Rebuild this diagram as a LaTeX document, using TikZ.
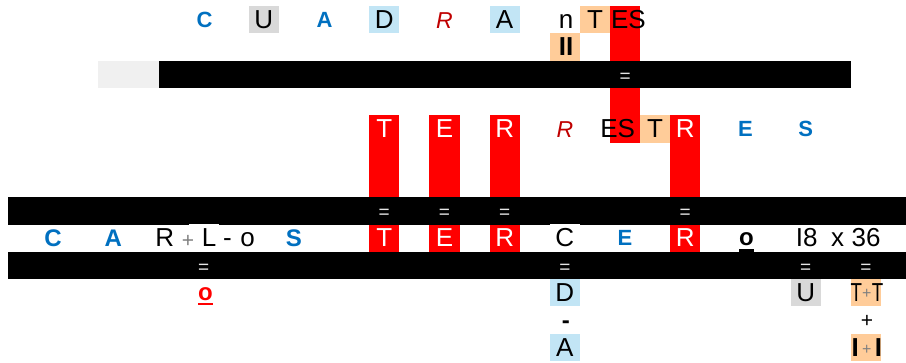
\documentclass[tikz,border=0pt]{standalone}
\usepackage{fontspec}
\setmainfont{Liberation Sans}
\definecolor{ablue}{HTML}{0070C0}
\definecolor{dred}{HTML}{C00000}
\definecolor{lblue}{HTML}{C2E5F5}
\definecolor{lgray}{HTML}{D9D9D9}
\definecolor{orng}{HTML}{FFCC99}
\definecolor{pgray}{HTML}{F0F0F0}
\definecolor{eqc}{HTML}{E6E6E6}
\definecolor{redc}{HTML}{FF0000}
\definecolor{plusg}{HTML}{808080}
\tikzset{
  tb/.style={anchor=base, inner sep=0pt, outer sep=0pt, font=\fontsize{26}{26}\selectfont},
  tw/.style={tb, text=white},
  tbb/.style={tb, font=\bfseries\fontsize{26}{26}\selectfont},
  tbl/.style={anchor=base, inner sep=0pt, outer sep=0pt, font=\bfseries\fontsize{22}{22}\selectfont, text=ablue},
  tblbig/.style={tbl, font=\bfseries\fontsize{24}{24}\selectfont},
  ti/.style={anchor=base, inner sep=0pt, outer sep=0pt, font=\itshape\fontsize{23}{23}\selectfont, text=dred},
  teq/.style={anchor=base, inner sep=0pt, outer sep=0pt, font=\fontsize{19}{19}\selectfont, text=eqc},
  tpl/.style={anchor=base, inner sep=0pt, outer sep=0pt, font=\fontsize{21}{21}\selectfont},
  tgp/.style={tpl, text=plusg},
  tgps/.style={tgp, font=\fontsize{16}{16}\selectfont},
  tbo/.style={anchor=base, inner sep=0pt, outer sep=0pt, font=\bfseries\fontsize{24}{24}\selectfont},
}
\begin{document}
\begin{tikzpicture}[x=1pt,y=-1pt]
\useasboundingbox (0,0) rectangle (906,362);
\fill[white] (0,0) rectangle (906,362);
% ---- coloured cells ----
% row 0 / 1
\fill[lgray] (248.8,6) rectangle (278.9,33.3);
\fill[lblue] (369.2,6) rectangle (399.3,33.3);
\fill[lblue] (489.6,6) rectangle (519.7,33.3);
\fill[orng] (579.9,6) rectangle (610,33.3);
\fill[orng] (549.8,33.3) rectangle (579.9,60.6);
\fill[redc] (610,6) rectangle (640.1,142.5);
% row 4 and red columns
\fill[orng] (640.1,115.2) rectangle (670.2,142.5);
\fill[redc] (369.2,115.2) rectangle (399.3,251.7);
\fill[redc] (429.4,115.2) rectangle (459.5,251.7);
\fill[redc] (489.6,115.2) rectangle (519.7,251.7);
\fill[redc] (670.2,115.2) rectangle (700.3,251.7);
% ---- bars ----
\fill[pgray] (98.3,60.6) rectangle (158.5,88.4);
\fill[black] (158.5,60.6) rectangle (850.8,88.4);
\fill[black] (8,197.1) rectangle (906,224.6);
\fill[black] (8,251.7) rectangle (906,279);
% white cells on row 8
\fill[white] (188.6,223.6) rectangle (218.7,251.7);
\fill[white] (549.8,223.6) rectangle (579.9,251.7);
% lower cells
\fill[lblue] (549.8,279) rectangle (579.9,306.3);
\fill[lblue] (549.8,333.6) rectangle (579.9,360.9);
\fill[lgray] (790.6,279) rectangle (820.7,306.3);
\fill[orng] (850.8,279) rectangle (880.9,306.3);
\fill[orng] (850.8,333.6) rectangle (880.9,360.9);
% ---- row 0 ----
\node[tbl] (c0) at (204.5,27.7) {C};
\node[tb] (u0) at (263.85,28.45) {U};
\node[tbl] (a0) at (324.5,27.7) {A};
\node[tb] (d0) at (384.25,28.45) {D};
\node[ti] (r0) at (444.5,28.3) {R};
\node[tb] (a1) at (504.65,28.45) {A};
\node[tb] (n0) at (566,28.45) {n};
\node[tb] (t0) at (594.95,28.45) {T};
\node[tb, anchor=base west] (es0) at (611,28.45) {ES};
\node[tbb] (ii0) at (566,55.75) {II};
\node[teq] (eq0) at (625.05,82.1) {=};
% ---- row 4 ----
\node[tw] (t4) at (384.25,137.65) {T};
\node[tw] (e4) at (444.45,137.65) {E};
\node[tw] (r4) at (504.65,137.65) {R};
\node[ti] (ri4) at (565,137.4) {R};
\node[tb, anchor=base east] (es4) at (635,137.65) {ES};
\node[tb] (tt4) at (655.15,137.65) {T};
\node[tw] (rr4) at (685.25,137.65) {R};
\node[tbl] (e4b) at (745.45,136.9) {E};
\node[tbl] (s4b) at (805.65,136.9) {S};
% ---- row 7 equals ----
\node[teq] (eq7a) at (384.25,218.6) {=};
\node[teq] (eq7b) at (444.45,218.6) {=};
\node[teq] (eq7c) at (504.65,218.6) {=};
\node[teq] (eq7d) at (685.25,218.6) {=};
% ---- row 8 ----
\node[tblbig] (c8) at (53.15,246.15) {C};
\node[tblbig] (a8) at (113.35,246.15) {A};
\node[tb] (r8) at (164.7,246.85) {R};
\node[tgp] (p8) at (188,247.4) {+};
\node[tb] (l8) at (209,246.85) {L};
\node[tb] (m8) at (227.5,246.85) {-};
\node[tb] (o8) at (247.5,246.85) {o};
\node[tblbig] (s8) at (293.95,246.15) {S};
\node[tw] (t8) at (384.25,246.85) {T};
\node[tw] (e8) at (444.45,246.85) {E};
\node[tw] (r8b) at (504.65,246.85) {R};
\node[tb] (c8b) at (564.85,246.85) {C};
\node[tbl] (e8b) at (625.05,245.85) {E};
\node[tw] (r8c) at (685.25,246.85) {R};
\node[tbo] (o8b) at (746.5,245.6) {o};
\fill[black] (739,248.8) rectangle (754,252);
\node[tb] (i8) at (806.7,246.85) {I8};
\node[tb] (x8) at (837.5,246.85) {x};
\node[tb] (n36) at (866,246.85) {36};
% ---- row 9 equals ----
\node[teq] (eq9a) at (203.65,273.2) {=};
\node[teq] (eq9b) at (564.85,273.2) {=};
\node[teq] (eq9c) at (805.65,273.2) {=};
\node[teq] (eq9d) at (865.85,273.2) {=};
% ---- row 10 ----
\node[tbo, text=redc] (o10) at (205.5,300.6) {o};
\fill[redc] (198,302.7) rectangle (213,305);
\node[tb] (d10) at (564.85,301.45) {D};
\node[tb] (u10) at (805.65,301.45) {U};
\node[tb] (tl10) at (856.3,301.45) {\scalebox{0.72}[1]{T}};
\node[tb] (tr10) at (877.5,301.45) {\scalebox{0.72}[1]{T}};
\node[tgps] (p10) at (866.9,298.2) {+};
% ---- row 11 ----
\node[tbo] (m11) at (565.9,328) {-};
\node[tpl] (p11) at (867,327.9) {+};
% ---- row 12 ----
\node[tb] (a12) at (564.85,356.05) {A};
\node[tbb] (il12) at (855.2,356.05) {I};
\node[tbb] (ir12) at (878.4,356.05) {I};
\node[tgps] (p12) at (866.8,354.8) {+};
\end{tikzpicture}
\end{document}
